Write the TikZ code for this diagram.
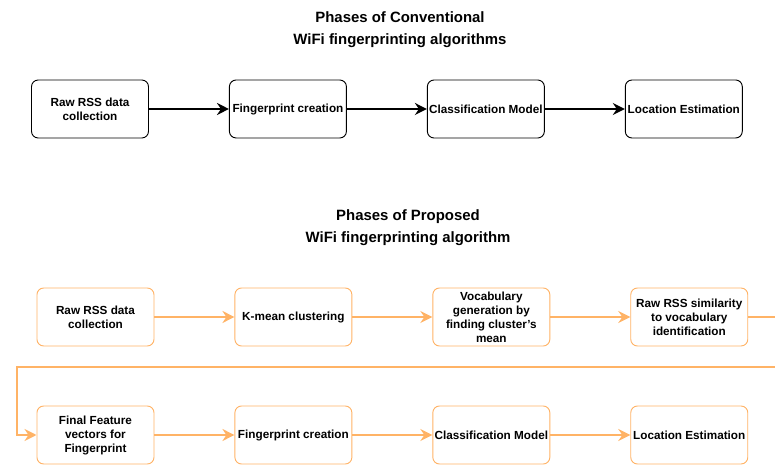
\documentclass[tikz,border=0pt]{standalone}
\usepackage{fontspec}
\setmainfont{Liberation Sans}
\usetikzlibrary{positioning}
\usetikzlibrary{arrows.meta}
\definecolor{phaseorange}{RGB}{255,179,102}

\begin{document}
\begin{tikzpicture}[
    phase/.style={rectangle, rounded corners=5pt, draw=black, fill=white, line width=0.7pt, minimum width=87.75pt, minimum height=43.5pt, align=center, inner sep=1pt, font=\bfseries\fontsize{8.8}{10.5}\selectfont},
    newphase/.style={phase, draw=phaseorange},
    heading/.style={align=center, font=\bfseries\fontsize{11.2}{16.5}\selectfont},
    flow/.style={-{Stealth[length=9pt, width=9pt, inset=3pt]}, line width=2pt},
    newflow/.style={flow, draw=phaseorange},
    node distance=60pt
    ]
        \useasboundingbox (0,0) rectangle (581.25pt,-349.5pt);

        % conventional pipeline
        \node[heading] (T1) at (300pt,-22.5pt) {Phases of Conventional\\WiFi fingerprinting algorithms};
        \node[phase] (C1) at (67.5pt,-81.75pt) {Raw RSS data\\collection};
        \node[phase] (C2) [right=of C1] {Fingerprint creation};
        \node[phase] (C3) [right=of C2] {Classification Model};
        \node[phase] (C4) [right=of C3] {Location Estimation};
        \draw[flow] (C1.east) -- (C2.west);
        \draw[flow] (C2.east) -- (C3.west);
        \draw[flow] (C3.east) -- (C4.west);

        % proposed pipeline
        \node[heading] (T2) at (306pt,-171pt) {Phases of Proposed\\WiFi fingerprinting algorithm};
        \node[newphase] (P1) at (71.6pt,-237.75pt) {Raw RSS data\\collection};
        \node[newphase] (P2) [right=of P1] {K-mean clustering};
        \node[newphase] (P3) [right=of P2] {Vocabulary\\generation by\\finding cluster's\\mean};
        \node[newphase] (P4) [right=of P3] {Raw RSS similarity\\to vocabulary\\identification};
        \node[newphase] (P5) at (71.6pt,-326.25pt) {Final Feature\\vectors for\\Fingerprint};
        \node[newphase] (P6) [right=of P5] {Fingerprint creation};
        \node[newphase] (P7) [right=of P6] {Classification Model};
        \node[newphase] (P8) [right=of P7] {Location Estimation};
        \draw[newflow] (P1.east) -- (P2.west);
        \draw[newflow] (P2.east) -- (P3.west);
        \draw[newflow] (P3.east) -- (P4.west);
        \coordinate (loopR) at (585pt,-275.25pt);
        \coordinate (loopL) at (12.75pt,-275.25pt);
        \draw[newflow] (P4.east) -| (loopR) -- (loopL) |- (P5.west);
        \draw[newflow] (P5.east) -- (P6.west);
        \draw[newflow] (P6.east) -- (P7.west);
        \draw[newflow] (P7.east) -- (P8.west);
\end{tikzpicture}
\end{document}
